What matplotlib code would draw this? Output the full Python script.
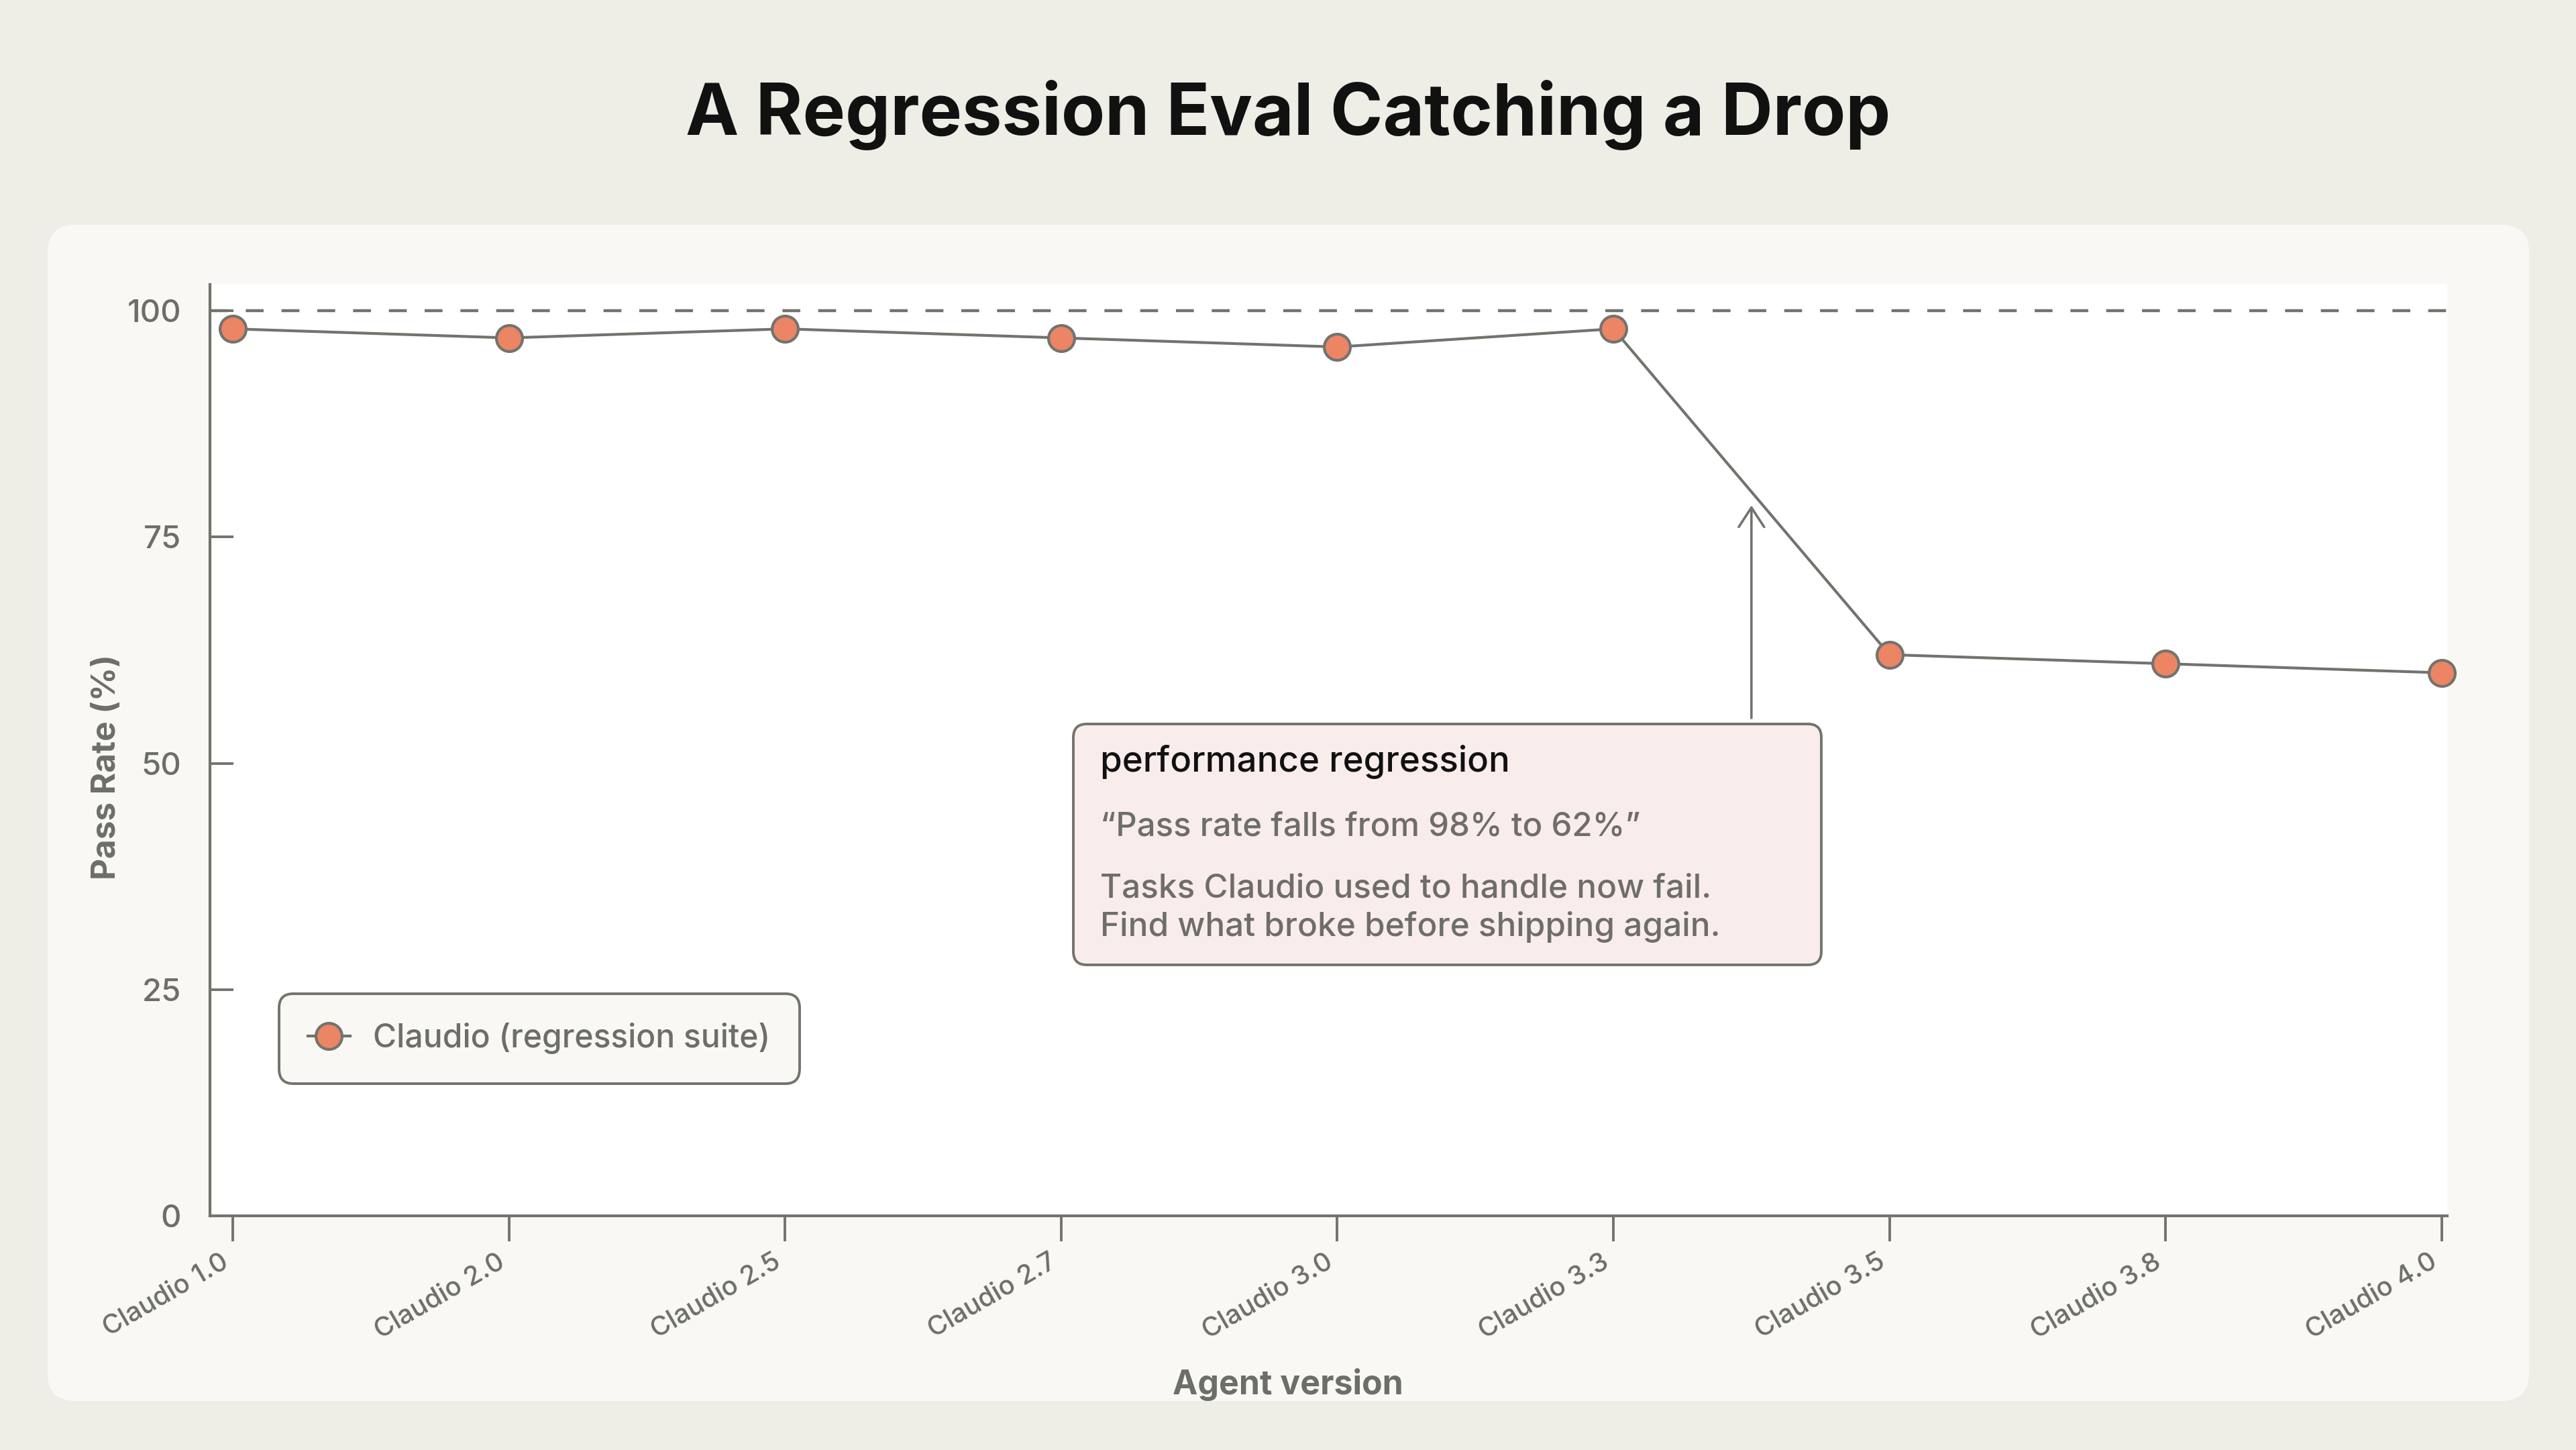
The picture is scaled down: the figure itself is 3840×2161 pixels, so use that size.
import matplotlib
matplotlib.use("Agg")
import matplotlib.pyplot as plt
from matplotlib.patches import FancyBboxPatch

# ---------------- data ----------------
versions = ["Claudio 1.0", "Claudio 2.0", "Claudio 2.5", "Claudio 2.7", "Claudio 3.0",
            "Claudio 3.3", "Claudio 3.5", "Claudio 3.8", "Claudio 4.0"]
pass_rate = [98, 97, 98, 97, 96, 98, 62, 61, 60]
y_ticks = [0, 25, 50, 75, 100]
series_label = "Claudio (regression suite)"
title = "A Regression Eval Catching a Drop"
x_label = "Agent version"
y_label = "Pass Rate (%)"
ref_level = 100
note_heading = "performance regression"
note_quote = "\u201cPass rate falls from 98% to 62%\u201d"
note_body = "Tasks Claudio used to handle now fail.\nFind what broke before shipping again."
arrow_x = 5.5
arrow_tip_y = 78.5
arrow_tail_y = 55.0

# ---------------- style ----------------
FIG_BG = "#EEEDE6"
PANEL = "#F9F8F4"
GRAY = "#73736E"
TEXT_GRAY = "#6E6E69"
CORAL = "#EB8563"
NOTE_BG = "#F9EDEB"

plt.rcParams["font.family"] = ["Inter", "DejaVu Sans"]

W, H = 3840, 2161
fig = plt.figure(figsize=(W / 200, H / 200), dpi=200, facecolor=FIG_BG)

def fx(px):
    return px / W

def fy(py):
    return 1 - py / H

# card panel
panel = FancyBboxPatch((fx(71), fy(2088)), fx(3770) - fx(71), fy(335) - fy(2088),
                       boxstyle="round,pad=0,rounding_size=0.0107",
                       mutation_aspect=W / H, transform=fig.transFigure,
                       facecolor=PANEL, edgecolor="none", zorder=-5)
fig.add_artist(panel)

fig.text(0.5, fy(201), title, ha="center", va="baseline", fontsize=38.3,
         fontweight="bold", color="#111111")

ax = fig.add_axes([fx(313), fy(1812), fx(3648) - fx(313), fy(424) - fy(1812)])
ax.set_facecolor("white")
x = list(range(len(versions)))

ax.axhline(ref_level, color=GRAY, lw=1.6, ls=(0, (6, 6)), zorder=1)
ax.plot(x, pass_rate, color=GRAY, lw=1.5, marker="o", ms=14, mfc=CORAL, mec=GRAY,
        mew=1.5, clip_on=False, zorder=4, label=series_label)

ax.set_xlim(-0.083, 8.02)
ax.set_ylim(0, 102.9)
ax.set_xticks(x)
ax.set_xticklabels(versions, rotation=30, ha="right", fontsize=14.3, color=TEXT_GRAY,
                   fontweight="medium")
ax.set_yticks(y_ticks)
ax.set_yticklabels([str(v) for v in y_ticks], fontsize=17, color=TEXT_GRAY,
                   fontweight="medium")

for s in ["top", "right"]:
    ax.spines[s].set_visible(False)
for s in ["left", "bottom"]:
    ax.spines[s].set_color(GRAY)
    ax.spines[s].set_linewidth(1.5)

ax.tick_params(axis="y", direction="in", length=12.5, width=1.4, color=GRAY, pad=15.5)
ax.tick_params(axis="x", direction="out", length=13.5, width=1.4, color=GRAY, pad=4.5)

ax.set_ylabel(y_label, fontsize=17.8, fontweight="bold", color=TEXT_GRAY)
ax.yaxis.set_label_coords((182 - 313) / (3648 - 313), (1812 - 1143) / (1812 - 424))
fig.text(0.5, fy(2078), x_label, ha="center", va="baseline", fontsize=18,
         fontweight="bold", color=TEXT_GRAY)

# legend
leg = ax.legend(loc="upper left", bbox_to_anchor=((416 - 313) / 3335, (1812 - 1481) / 1388),
                borderaxespad=0, prop={"size": 17.3, "weight": "medium"},
                frameon=True, fancybox=True,
                borderpad=0.9, handlelength=1.3, handletextpad=0.72,
                facecolor=PANEL, edgecolor=GRAY, framealpha=1)
leg.get_frame().set_linewidth(1.4)
leg.get_frame().set_boxstyle("round,pad=0,rounding_size=0.44")
for t in leg.get_texts():
    t.set_color(TEXT_GRAY)

# annotation box
box_l, box_r, box_t, box_b = 1600, 2715, 1079, 1438
note = FancyBboxPatch((fx(box_l), fy(box_b)), fx(box_r) - fx(box_l), fy(box_t) - fy(box_b),
                      boxstyle="round,pad=0,rounding_size=0.0052",
                      mutation_aspect=W / H, transform=fig.transFigure,
                      facecolor=NOTE_BG, edgecolor=GRAY, linewidth=1.4, zorder=5)
fig.add_artist(note)
fig.text(fx(1640), fy(1150), note_heading, ha="left", va="baseline", fontsize=19,
         fontweight="medium", color="#111111", zorder=6)
fig.text(fx(1640), fy(1245), note_quote, ha="left", va="baseline", fontsize=17.7,
         fontweight="medium", color=TEXT_GRAY, zorder=6)
body_lines = note_body.split("\n")
fig.text(fx(1640), fy(1337), body_lines[0], ha="left", va="baseline",
         fontsize=17.8, fontweight="medium", color=TEXT_GRAY, zorder=6)
fig.text(fx(1640), fy(1395), body_lines[1], ha="left", va="baseline",
         fontsize=17.8, fontweight="medium", color=TEXT_GRAY, zorder=6)

ax.annotate("", xy=(arrow_x, arrow_tip_y), xytext=(arrow_x, arrow_tail_y),
            arrowprops=dict(arrowstyle="->,head_length=0.52,head_width=0.34",
                            mutation_scale=20, color=GRAY, lw=1.3,
                            shrinkA=0, shrinkB=0), zorder=3)

fig.savefig("out.png", dpi=200, facecolor=FIG_BG)
